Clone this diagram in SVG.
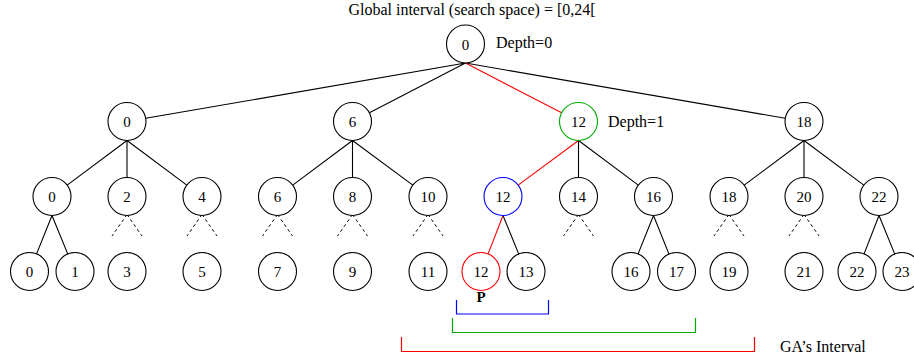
<svg xmlns="http://www.w3.org/2000/svg" width="914" height="361" viewBox="0 0 914 361">
<style>
.n{fill:#fff;stroke:#000;stroke-width:1.1}
.t{font-family:"Liberation Serif",serif;font-size:15px;text-anchor:middle}
.l{font-family:"Liberation Serif",serif;font-size:16px}
.e{stroke:#000;stroke-width:1.1;fill:none}
.r{stroke:#ff0000}
.d{stroke:#000;stroke-width:1;stroke-dasharray:3,3;fill:none}
</style>
<rect width="914" height="361" fill="#fff"/>
<text class="l" x="472" y="15" text-anchor="middle">Global interval (search space) = [0,24[</text>
<text class="l" x="496" y="48">Depth=0</text>
<text class="l" x="608" y="127">Depth=1</text>
<g id="connectors">
<path class="e" d="M465.5 63L145.7 118.3M465.5 63L369.4 112.8M465.5 63L785.3 118.3"/>
<path class="e r" d="M465.5 63L561.6 112.8"/>
<path class="e" d="M127 140.5L67.2 185.1M127 140.5L127 177.5M127 140.5L186.8 185.1"/>
<path class="e" d="M352.5 140.5L292.7 185.1M352.5 140.5L352.5 177.5M352.5 140.5L412.8 185.1"/>
<path class="e r" d="M578.5 140.5L518.2 185.1"/>
<path class="e" d="M578.5 140.5L578.5 177.5M578.5 140.5L638.3 185.1"/>
<path class="e" d="M804 140.5L744.2 185.1M804 140.5L804 177.5M804 140.5L863.8 185.1"/>
<path class="e" d="M52 215.5L36.6 253.9M52 215.5L67.7 253.9"/>
<path class="e r" d="M503 215.5L488.1 253.9"/>
<path class="e" d="M503 215.5L518.7 253.9"/>
<path class="e" d="M653.5 215.5L638.1 253.9M653.5 215.5L668.9 253.9"/>
<path class="e" d="M879 215.5L864.1 253.9M879 215.5L894.7 253.9"/>
<path class="d" d="M127 214.5L112 236M127 214.5L142 236M202 214.5L187 236M202 214.5L217 236M277.5 214.5L262.5 236M277.5 214.5L292.5 236M352.5 214.5L337.5 236M352.5 214.5L367.5 236M428 214.5L413 236M428 214.5L443 236M578.5 214.5L563.5 236M578.5 214.5L593.5 236M729 214.5L714 236M729 214.5L744 236M804 214.5L789 236M804 214.5L819 236"/>
</g>
<g id="root"><circle class="n" cx="465.5" cy="44" r="19"/><text class="t" x="465.5" y="49.5">0</text></g>
<g id="a0"><circle class="n" cx="127" cy="121.5" r="19"/><text class="t" x="127" y="127">0</text></g>
<g id="a6"><circle class="n" cx="352.5" cy="121.5" r="19"/><text class="t" x="352.5" y="127">6</text></g>
<g id="a12"><circle class="n" cx="578.5" cy="121.5" r="19" style="stroke:#00aa00"/><text class="t" x="578.5" y="127">12</text></g>
<g id="a18"><circle class="n" cx="804" cy="121.5" r="19"/><text class="t" x="804" y="127">18</text></g>
<g id="b0"><circle class="n" cx="52" cy="196.5" r="19"/><text class="t" x="52" y="202">0</text></g>
<g id="b2"><circle class="n" cx="127" cy="196.5" r="19"/><text class="t" x="127" y="202">2</text></g>
<g id="b4"><circle class="n" cx="202" cy="196.5" r="19"/><text class="t" x="202" y="202">4</text></g>
<g id="b6"><circle class="n" cx="277.5" cy="196.5" r="19"/><text class="t" x="277.5" y="202">6</text></g>
<g id="b8"><circle class="n" cx="352.5" cy="196.5" r="19"/><text class="t" x="352.5" y="202">8</text></g>
<g id="b10"><circle class="n" cx="428" cy="196.5" r="19"/><text class="t" x="428" y="202">10</text></g>
<g id="b12"><circle class="n" cx="503" cy="196.5" r="19" style="stroke:#0000ff"/><text class="t" x="503" y="202">12</text></g>
<g id="b14"><circle class="n" cx="578.5" cy="196.5" r="19"/><text class="t" x="578.5" y="202">14</text></g>
<g id="b16"><circle class="n" cx="653.5" cy="196.5" r="19"/><text class="t" x="653.5" y="202">16</text></g>
<g id="b18"><circle class="n" cx="729" cy="196.5" r="19"/><text class="t" x="729" y="202">18</text></g>
<g id="b20"><circle class="n" cx="804" cy="196.5" r="19"/><text class="t" x="804" y="202">20</text></g>
<g id="b22"><circle class="n" cx="879" cy="196.5" r="19"/><text class="t" x="879" y="202">22</text></g>
<g id="c0"><circle class="n" cx="29.5" cy="271.5" r="19"/><text class="t" x="29.5" y="277">0</text></g>
<g id="c1"><circle class="n" cx="75" cy="271.5" r="19"/><text class="t" x="75" y="277">1</text></g>
<g id="c3"><circle class="n" cx="127" cy="271.5" r="19"/><text class="t" x="127" y="277">3</text></g>
<g id="c5"><circle class="n" cx="202" cy="271.5" r="19"/><text class="t" x="202" y="277">5</text></g>
<g id="c7"><circle class="n" cx="277.5" cy="271.5" r="19"/><text class="t" x="277.5" y="277">7</text></g>
<g id="c9"><circle class="n" cx="352.5" cy="271.5" r="19"/><text class="t" x="352.5" y="277">9</text></g>
<g id="c11"><circle class="n" cx="428" cy="271.5" r="19"/><text class="t" x="428" y="277">11</text></g>
<g id="c12"><circle class="n" cx="481" cy="271.5" r="19" style="stroke:#ff0000"/><text class="t" x="481" y="277">12</text></g>
<g id="c13"><circle class="n" cx="526" cy="271.5" r="19"/><text class="t" x="526" y="277">13</text></g>
<g id="c16"><circle class="n" cx="631" cy="271.5" r="19"/><text class="t" x="631" y="277">16</text></g>
<g id="c17"><circle class="n" cx="676.5" cy="271.5" r="19"/><text class="t" x="676.5" y="277">17</text></g>
<g id="c19"><circle class="n" cx="729" cy="271.5" r="19"/><text class="t" x="729" y="277">19</text></g>
<g id="c21"><circle class="n" cx="804" cy="271.5" r="19"/><text class="t" x="804" y="277">21</text></g>
<g id="c22"><circle class="n" cx="857" cy="271.5" r="19"/><text class="t" x="857" y="277">22</text></g>
<g id="c23"><circle class="n" cx="902" cy="271.5" r="19"/><text class="t" x="902" y="277">23</text></g>
<text x="481" y="302" font-family="Liberation Serif, serif" font-size="15px" font-weight="bold" text-anchor="middle">P</text>
<g id="brackets" fill="none" stroke-width="1.2">
<path d="M456.5 300V314H548.5V300" stroke="#0000ff"/>
<path d="M452.5 318V332.5H695.5V318" stroke="#00aa00"/>
<path d="M401.5 337V351.5H754.5V337" stroke="#ff0000"/>
</g>
<text class="l" x="780" y="352">GA’s Interval</text>
</svg>
